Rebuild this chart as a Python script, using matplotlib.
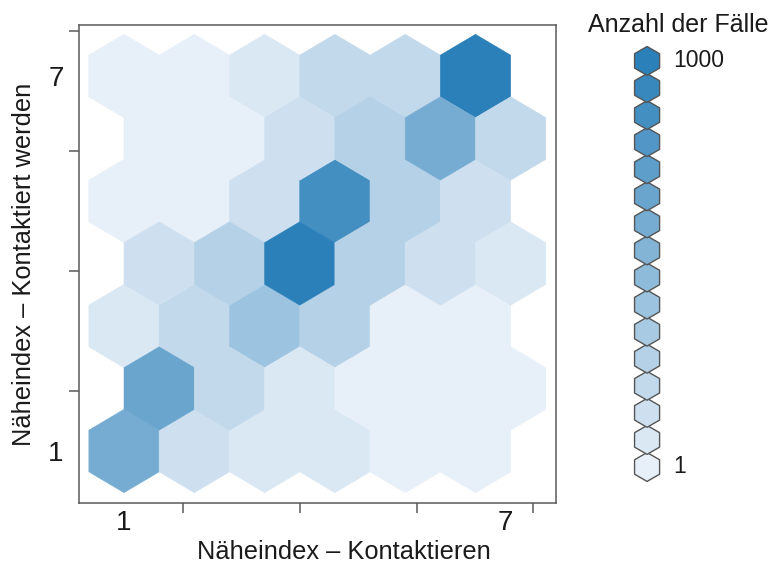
import numpy as np
import matplotlib
matplotlib.use("Agg")
import matplotlib.pyplot as plt
from matplotlib.colors import LinearSegmentedColormap, LogNorm
from matplotlib.patches import RegularPolygon
from matplotlib.collections import PatchCollection

plt.rcParams['font.family'] = ['Liberation Sans', 'DejaVu Sans']

# Anzahl der Fälle je Sechseck: Zeilen von unten nach oben, Spalten von links nach rechts
faelle = [
    [60, 3, 2, 2, 1, 1],
    [95, 5, 2, 1, 1, 1],
    [2, 5, 16, 7, 1, 1],
    [3, 7, 920, 7, 3, 2],
    [1, 1, 3, 350, 7, 3],
    [1, 1, 3, 7, 60, 5],
    [1, 1, 2, 5, 5, 850],
]
x_ticks = [1.93, 3.77, 5.61, 7.44]
y_ticks = [1.96, 3.88, 5.80, 7.72]
skala_pos = [1, 7]
skala_labels = ['1', '7']
legende_labels = ['1', '1000']
n_stufen = 16

farbe_hell = '#e7eff8'
farbe_dunkel = '#2b80b9'
cmap = LinearSegmentedColormap.from_list('blau', [farbe_hell, farbe_dunkel], N=n_stufen)
norm = LogNorm(vmin=1, vmax=1000)

grau = '#5a5a5a'
text_farbe = '#1a1a1a'

fig = plt.figure(figsize=(7.73, 5.65), dpi=100)
ax = fig.add_axes([79 / 773, 62 / 565, 477 / 773, 478 / 565])

# hexbin-Gitter: Breite sx, Zeilenabstand 1 (sy = 2)
sx = 1.107
zeile, spalte = np.indices(np.shape(faelle))
xs = 1 + (spalte + 0.5 * (zeile % 2)) * sx
ys = 1 + zeile
ax.hexbin(xs.ravel(), ys.ravel(), C=np.ravel(faelle), reduce_C_function=np.sum,
          gridsize=(6, 3), extent=(1, 1 + 6 * sx, 1, 7),
          cmap=cmap, norm=norm, edgecolors='face', linewidths=0.4)

ax.set_xlim(0.291, 7.803)
ax.set_ylim(0.168, 7.816)

for s in ax.spines.values():
    s.set_color(grau)
    s.set_linewidth(1.1)

ax.set_xticks(x_ticks, labels=[])
ax.set_yticks(y_ticks, labels=[])
ax.tick_params(which='major', direction='out', length=7.5, width=1.1, color=grau)
ax.set_xticks(skala_pos, labels=skala_labels, minor=True)
ax.set_yticks(skala_pos, labels=skala_labels, minor=True)
ax.tick_params(which='minor', length=0, labelsize=20, labelcolor=text_farbe)
ax.tick_params(axis='x', which='minor', pad=5)
ax.tick_params(axis='y', which='minor', pad=11)

fig.text(343.5 / 773, 6 / 565, 'Näheindex – Kontaktieren', ha='center', va='baseline',
         fontsize=18.3, color=text_farbe)
fig.text(24 / 773, 1 - 264 / 565, 'Näheindex – Kontaktiert werden', ha='center', va='center',
         rotation=90, fontsize=18.3, color=text_farbe)

# Legende: gestapelte Sechsecke, eines je Farbstufe
lax = fig.add_axes([620 / 773, 75 / 565, 80 / 773, 450 / 565])
einheit = 27.07
lax.set_xlim(0, 80 / einheit)
lax.set_ylim(0.15, 0.15 + 450 / einheit)
lax.axis('off')
hexe = [RegularPolygon((1.0, i + 1), numVertices=6, radius=14.45 / einheit, orientation=0)
        for i in range(n_stufen)]
lax.add_collection(PatchCollection(hexe, facecolors=[cmap(i) for i in range(n_stufen)],
                                   edgecolors='#555555', linewidths=1.0))
lax.text(1.95, 1, legende_labels[0], ha='left', va='center', fontsize=16.5, color=text_farbe)
lax.text(1.95, n_stufen, legende_labels[1], ha='left', va='center', fontsize=16.5, color=text_farbe)
fig.text(678.5 / 773, 1 - 31.7 / 565, 'Anzahl der Fälle', ha='center', va='baseline',
         fontsize=18, color=text_farbe)

fig.savefig('out.png', dpi=100)
